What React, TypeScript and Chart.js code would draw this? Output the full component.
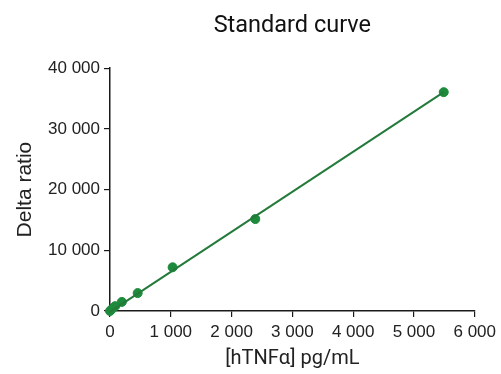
import React, { useEffect, useRef } from "react";
import { Chart, registerables } from "chart.js";

Chart.register(...registerables);

const concentrations = [0, 35, 85, 195, 455, 1030, 2390, 5490];
const deltaRatio = [0, 350, 800, 1500, 2950, 7200, 15150, 36050];
const fitX = [0, 5490];
const fitY = [-150, 36050];
const xTicks = [0, 1000, 2000, 3000, 4000, 5000, 6000];
const yTicks = [0, 10000, 20000, 30000, 40000];

const fmt = (v: number) => {
  const s = String(Math.round(v));
  return s.replace(/\B(?=(\d{3})+(?!\d))/g, " ");
};

export default function App() {
  const ref = useRef<HTMLCanvasElement | null>(null);
  useEffect(() => {
    document.body.style.margin = "0";
    const ctx = ref.current!.getContext("2d")!;
    const axisColor = "#1a1a1a";
    const chart = new Chart(ctx, {
      type: "scatter",
      data: {
        datasets: [
          {
            type: "line",
            label: "fit",
            data: fitX.map((x, i) => ({ x, y: fitY[i] })),
            borderColor: "#237a3a",
            borderWidth: 2,
            pointRadius: 0,
            fill: false,
            clip: false as any,
          },
          {
            label: "points",
            data: concentrations.map((x, i) => ({ x, y: deltaRatio[i] })),
            backgroundColor: "#1d8a3c",
            borderColor: "#1d8a3c",
            pointRadius: 4.5,
            clip: false as any,
          },
        ],
      },
      options: {
        animation: false,
        responsive: false,
        layout: { padding: { left: 0, right: 25, top: 0, bottom: 0 } },
        plugins: {
          legend: { display: false },
          tooltip: { enabled: false },
          title: {
            display: true,
            text: "Standard curve",
            fullSize: false,
            color: "#111",
            font: { family: "Roboto", size: 23.5, weight: "normal" as any },
            padding: { top: 12, bottom: 28 },
          },
        },
        scales: {
          x: {
            type: "linear",
            min: 0,
            max: 6000,
            afterFit: (s: any) => {
              s.height = 63;
            },
            afterBuildTicks: (s: any) => {
              s.ticks = xTicks.map((v) => ({ value: v }));
            },
            border: { display: true, color: axisColor, width: 1.5 },
            grid: { drawOnChartArea: false, drawTicks: true, tickLength: 6, color: axisColor, lineWidth: 1.2 },
            ticks: {
              color: "#222",
              padding: 5,
              font: { family: "Liberation Sans", size: 17 },
              maxRotation: 0,
              callback: (v: any) => fmt(Number(v)),
            },
            title: {
              display: true,
              text: "[hTNFα] pg/mL",
              color: "#222",
              font: { family: "Roboto", size: 20 },
              padding: { top: 0, bottom: 3 },
            },
          },
          y: {
            type: "linear",
            min: 0,
            max: 40000,
            afterFit: (s: any) => {
              s.width = 110;
            },
            afterBuildTicks: (s: any) => {
              s.ticks = yTicks.map((v) => ({ value: v }));
            },
            border: { display: true, color: axisColor, width: 1.5 },
            grid: { drawOnChartArea: false, drawTicks: true, tickLength: 6, color: axisColor, lineWidth: 1.2 },
            ticks: {
              color: "#222",
              padding: 4,
              font: { family: "Liberation Sans", size: 17 },
              callback: (v: any) => fmt(Number(v)),
            },
            title: {
              display: true,
              text: "Delta ratio",
              color: "#222",
              font: { family: "Liberation Sans", size: 21 },
              padding: { top: 13, bottom: 0 },
            },
          },
        },
      },
    });
    return () => chart.destroy();
  }, []);
  return (
    <div style={{ width: 501, height: 374, background: "#fff" }}>
      <canvas ref={ref} width={501} height={374} style={{ display: "block" }} />
    </div>
  );
}
